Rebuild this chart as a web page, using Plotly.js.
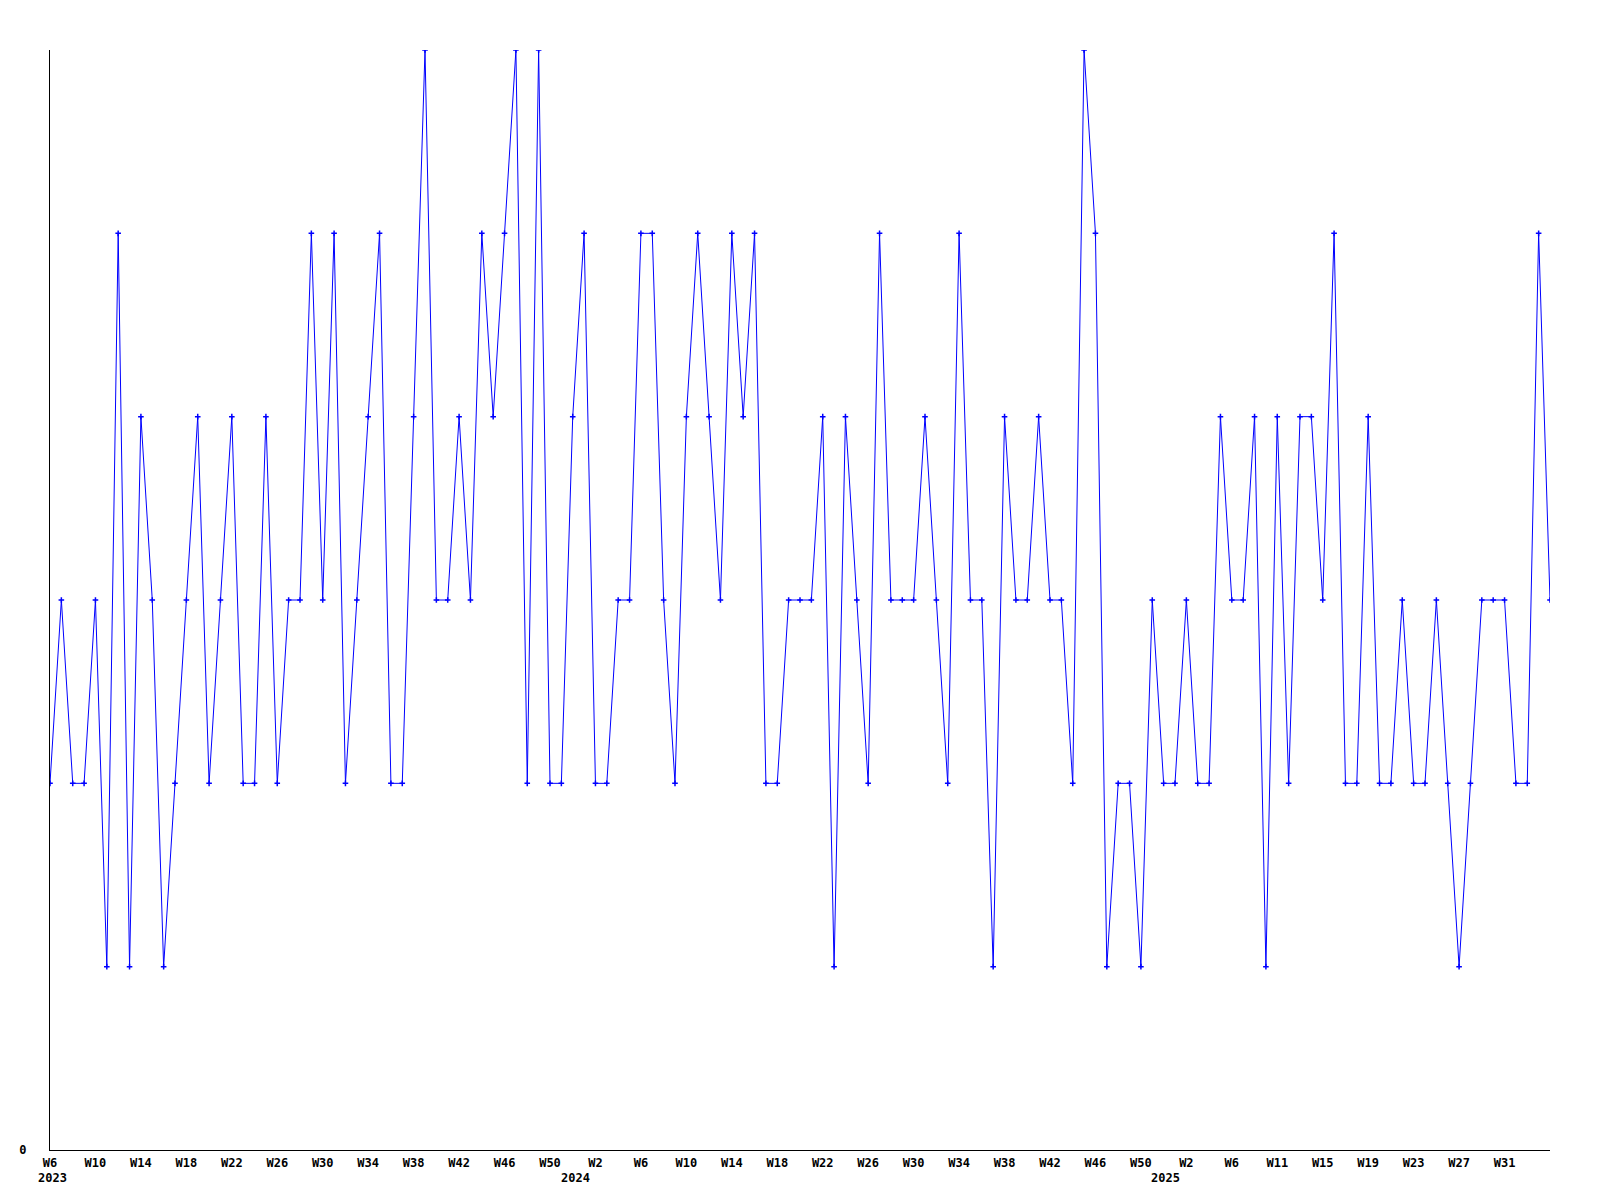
<!DOCTYPE html>
<html>
<head>
<meta charset="utf-8">
<script src="https://cdn.plot.ly/plotly-3.0.1.min.js"></script>
<style>
  html, body { margin: 0; padding: 0; background: #ffffff; }
  #chart { width: 1600px; height: 1200px; }
</style>
</head>
<body>
<div id="chart"></div>
<script>
// Weekly values, 2023 W6 .. 2025 W35 (one point per week)
const values = [
  2,3,2,2,3,1,5,1,4,3,1,2,3,4,2,3,4,2,2,4,2,3,
  3,5,3,5,2,3,4,5,2,2,4,6,3,3,4,3,5,4,5,6,2,6,
  2,2,4,5,2,2,3,3,5,5,3,2,4,5,4,3,5,4,5,2,2,3,
  3,3,4,1,4,3,2,5,3,3,3,4,3,2,5,3,3,1,4,3,3,4,
  3,3,2,6,5,1,2,2,1,3,2,2,3,2,2,4,3,3,4,1,4,2,
  4,4,3,5,2,2,4,2,2,3,2,2,3,2,1,2,3,3,3,2,2,5,3
];
const weekIndex = values.map((_, i) => i);

const tickPositions = [0,4,8,12,16,20,24,28,32,36,40,44,48,52,56,60,64,68,72,76,80,84,88,92,96,100,104,108,112,116,120,124,128];
const tickLabels = ['W6','W10','W14','W18','W22','W26','W30','W34','W38','W42','W46','W50',
                    'W2','W6','W10','W14','W18','W22','W26','W30','W34','W38','W42','W46','W50',
                    'W2','W6','W11','W15','W19','W23','W27','W31'];
const yearLabels = ['2023','2024','2025'];
const yearPositions = [0.2, 46.2, 98.2];

const FONT = 'DejaVu Sans Mono, monospace';

const trace = {
  x: weekIndex,
  y: values,
  type: 'scatter',
  mode: 'lines+markers',
  line: { color: '#0000ff', width: 1 },
  marker: { symbol: 'cross-thin', size: 4, color: '#0000ff', line: { color: '#0000ff', width: 1.5 } },
  cliponaxis: true,
  hoverinfo: 'x+y'
};

const annotations = yearLabels.map((t, k) => ({
  text: t,
  x: yearPositions[k],
  xref: 'x',
  y: 0,
  yref: 'paper',
  yshift: -28,
  showarrow: false,
  xanchor: 'center',
  yanchor: 'middle',
  font: { family: FONT, size: 12, color: '#000000', weight: 'bold' }
}));

const layout = {
  width: 1600,
  height: 1200,
  margin: { l: 50, r: 50, t: 50, b: 50 },
  paper_bgcolor: '#ffffff',
  plot_bgcolor: '#ffffff',
  showlegend: false,
  xaxis: {
    range: [0, 132],
    showgrid: false,
    zeroline: false,
    showline: true,
    linecolor: '#000000',
    linewidth: 1,
    ticks: '',
    tickmode: 'array',
    tickvals: tickPositions,
    ticktext: tickLabels,
    tickangle: 0,
    tickfont: { family: FONT, size: 12, color: '#000000', weight: 'bold' },
    ticklabelstandoff: 2
  },
  yaxis: {
    range: [0, 6],
    showgrid: false,
    zeroline: false,
    showline: true,
    linecolor: '#000000',
    linewidth: 1,
    ticks: '',
    tickmode: 'array',
    tickvals: [0],
    ticktext: ['0'],
    tickfont: { family: FONT, size: 12, color: '#000000', weight: 'bold' },
    ticklabelstandoff: 20
  },
  annotations: annotations
};

Plotly.newPlot('chart', [trace], layout, { displayModeBar: false, staticPlot: true });
</script>
</body>
</html>
